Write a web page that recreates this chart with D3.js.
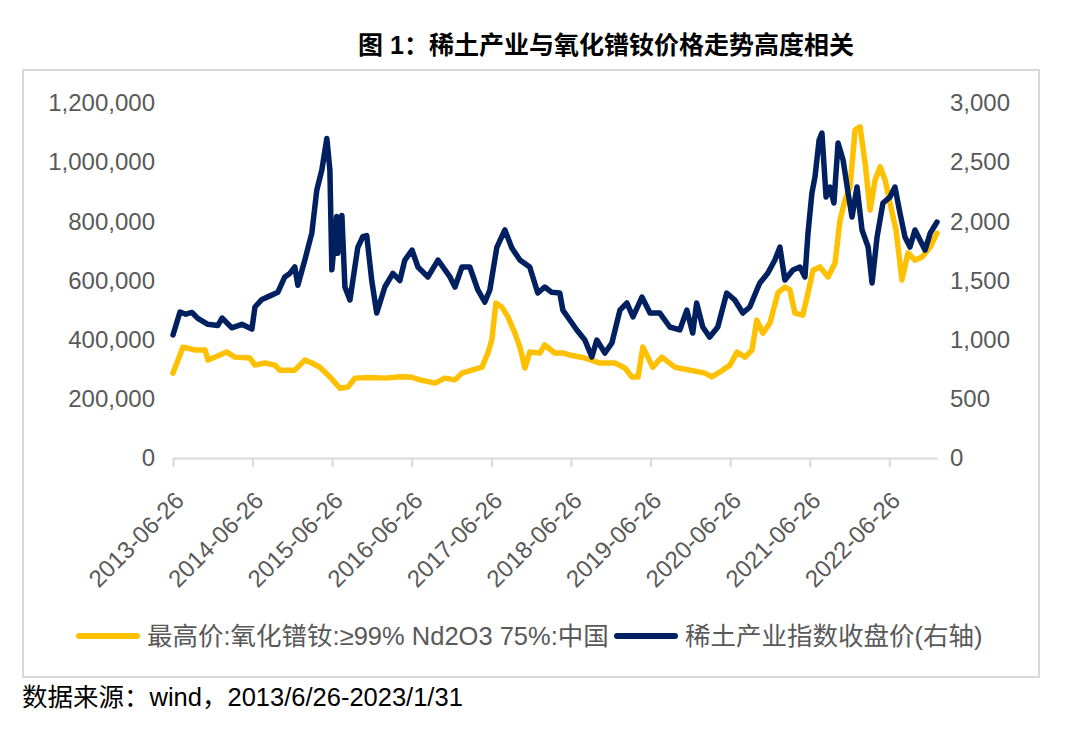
<!DOCTYPE html>
<html>
<head>
<meta charset="utf-8">
<script src="https://cdnjs.cloudflare.com/ajax/libs/d3/7.8.5/d3.min.js"></script>
<style>
    body{margin:0;background:#fff;}
    svg text{font-family:"Liberation Sans","Noto Sans CJK SC",sans-serif;}
</style>
</head>
<body>
<div id="chart"></div>
<script>
// 最高价:氧化镨钕 (元/吨, 左轴)
var priceDates = ["2013-06-26","2013-07-19","2013-08-11","2013-10-05","2013-11-20","2013-12-03","2014-01-27","2014-02-28",
    "2014-04-06","2014-06-14","2014-07-07","2014-08-22","2014-10-07","2014-10-29","2015-01-06","2015-02-21","2015-03-25",
    "2015-05-01","2015-06-16","2015-08-01","2015-09-07","2015-10-09","2015-12-16","2016-02-23","2016-05-02","2016-06-18",
    "2016-08-03","2016-10-11","2016-11-25","2017-01-10","2017-02-11","2017-03-28","2017-05-14","2017-06-10","2017-06-28",
    "2017-07-17","2017-08-13","2017-09-10","2017-10-12","2017-11-04","2017-11-27","2017-12-19","2018-02-04","2018-02-26",
    "2018-04-13","2018-05-20","2018-06-21","2018-08-29","2018-11-06","2019-01-14","2019-03-01","2019-04-02","2019-04-30",
    "2019-05-22","2019-06-14","2019-07-07","2019-08-17","2019-10-16","2019-12-24","2020-03-02","2020-04-03","2020-05-10",
    "2020-06-25","2020-07-27","2020-09-02","2020-10-04","2020-10-26","2020-11-23","2020-12-25","2021-01-31","2021-03-04",
    "2021-03-27","2021-04-19","2021-05-25","2021-06-18","2021-07-11","2021-08-12","2021-09-18","2021-10-20","2021-11-12",
    "2021-12-05","2021-12-28","2022-01-20","2022-02-12","2022-03-07","2022-03-30","2022-04-22","2022-05-15","2022-06-07",
    "2022-06-29","2022-07-27","2022-08-23","2022-09-20","2022-10-22","2022-11-23","2022-12-31","2023-01-31"];
var priceValues = [287000,331000,375000,365000,365000,331000,348000,358000,
    341000,338000,314000,321000,314000,297000,297000,331000,321000,
    307000,274000,236000,240000,270000,272000,270000,275000,274000,
    264000,253000,270000,264000,287000,297000,307000,355000,399000,
    524000,510000,477000,422000,375000,304000,358000,355000,382000,
    355000,355000,348000,338000,321000,321000,304000,274000,274000,
    375000,341000,307000,341000,307000,297000,287000,274000,291000,
    314000,358000,341000,365000,466000,422000,456000,558000,578000,
    568000,490000,483000,558000,635000,646000,612000,659000,804000,
    872000,916000,1109000,1119000,997000,838000,940000,984000,940000,
    862000,771000,602000,693000,669000,679000,713000,760000];

// 稀土产业指数收盘价 (右轴)
var indexDates = ["2013-06-26","2013-07-28","2013-08-24","2013-09-21","2013-10-18","2013-12-03","2014-01-18","2014-02-06",
    "2014-03-23","2014-05-08","2014-06-23","2014-07-07","2014-08-08","2014-09-14","2014-10-20","2014-11-21","2014-12-14",
    "2015-01-06","2015-01-20","2015-02-21","2015-03-25","2015-04-17","2015-05-10","2015-06-02","2015-06-16","2015-06-25",
    "2015-07-17","2015-07-22","2015-08-10","2015-08-24","2015-09-16","2015-10-22","2015-11-14","2015-12-02","2015-12-25",
    "2016-01-17","2016-02-23","2016-03-31","2016-05-02","2016-05-25","2016-06-27","2016-07-24","2016-09-08","2016-10-24",
    "2016-12-18","2017-01-10","2017-02-11","2017-03-19","2017-04-25","2017-05-27","2017-06-19","2017-07-21","2017-08-27",
    "2017-09-28","2017-11-04","2017-12-19","2018-01-25","2018-02-26","2018-03-30","2018-05-06","2018-05-20","2018-06-21",
    "2018-07-23","2018-08-29","2018-09-30","2018-10-23","2018-11-29","2018-12-31","2019-02-06","2019-03-10","2019-04-07",
    "2019-05-18","2019-06-24","2019-08-08","2019-09-23","2019-11-08","2019-12-10","2020-01-06","2020-01-24","2020-02-21",
    "2020-03-24","2020-04-30","2020-06-10","2020-07-17","2020-08-23","2020-09-24","2020-10-26","2020-11-09","2020-12-16",
    "2021-01-17","2021-02-09","2021-03-04","2021-04-10","2021-05-12","2021-06-04","2021-06-18","2021-07-06","2021-07-20",
    "2021-08-08","2021-08-21","2021-09-09","2021-09-27","2021-10-15","2021-11-03","2021-11-26","2021-12-19","2022-01-06",
    "2022-01-29","2022-02-21","2022-03-21","2022-04-08","2022-05-01","2022-05-28","2022-06-29","2022-07-22","2022-08-14",
    "2022-09-06","2022-09-29","2022-10-22","2022-11-14","2022-12-07","2022-12-31","2023-01-31"];
var indexValues = [1040,1234,1215,1230,1180,1130,1120,1183,
    1100,1130,1090,1276,1340,1370,1400,1530,1560,
    1614,1460,1673,1900,2265,2434,2700,2434,1590,
    2040,1730,2050,1445,1335,1780,1870,1880,1500,
    1225,1445,1560,1500,1673,1757,1614,1530,1673,
    1530,1445,1614,1614,1420,1318,1420,1780,1927,
    1775,1673,1614,1394,1445,1400,1394,1250,1166,
    1082,997,853,997,887,972,1250,1310,1192,
    1360,1225,1225,1107,1082,1250,1056,1310,1107,
    1022,1107,1394,1335,1225,1276,1420,1479,1563,
    1673,1782,1504,1588,1614,1530,1900,2240,2374,
    2687,2746,2205,2290,2155,2662,2518,2240,2037,
    2290,1927,1783,1479,1868,2155,2205,2290,2070,
    1868,1783,1927,1842,1757,1900,1994];

var xTickLabels = ["2013-06-26","2014-06-26","2015-06-26","2016-06-26","2017-06-26",
    "2018-06-26","2019-06-26","2020-06-26","2021-06-26","2022-06-26"];
var leftTicks = [0,200000,400000,600000,800000,1000000,1200000];
var rightTicks = [0,500,1000,1500,2000,2500,3000];

var parseDate = d3.timeParse("%Y-%m-%d");
var priceData = priceDates.map(function (d, i) { return {date: parseDate(d), value: priceValues[i]}; });
var indexData = indexDates.map(function (d, i) { return {date: parseDate(d), value: indexValues[i]}; });

var svg = d3.select("#chart")
    .append("svg")
    .attr("width", 1080)
    .attr("height", 734);

svg.append("text")
    .attr("x", 606)
    .attr("y", 45)
    .attr("text-anchor", "middle")
    .attr("dominant-baseline", "central")
    .attr("font-size", 25)
    .attr("font-weight", "bold")
    .attr("fill", "#000")
    .text("图 1：稀土产业与氧化镨钕价格走势高度相关");

svg.append("rect")
    .attr("x", 23)
    .attr("y", 70)
    .attr("width", 1016)
    .attr("height", 607)
    .attr("fill", "none")
    .attr("stroke", "#d9d9d9")
    .attr("stroke-width", 2);

var x = d3.scaleTime()
    .domain([parseDate("2013-06-26"), parseDate("2023-01-31")])
    .range([173, 937]);
var yLeft = d3.scaleLinear().domain([0, 1200000]).range([458, 103]);
var yRight = d3.scaleLinear().domain([0, 3000]).range([458, 103]);

// x axis
var xAxis = svg.append("g")
    .attr("transform", "translate(0,458)")
    .call(d3.axisBottom(x)
        .tickValues(xTickLabels.map(parseDate))
        .tickFormat(d3.timeFormat("%Y-%m-%d"))
        .tickSize(9)
        .tickSizeOuter(0));
xAxis.select(".domain").attr("stroke", "#d9d9d9").attr("stroke-width", 2);
xAxis.selectAll(".tick line").attr("stroke", "#d9d9d9").attr("stroke-width", 2);
xAxis.selectAll(".tick text")
    .attr("x", 0)
    .attr("y", 0)
    .attr("dy", "0.35em")
    .attr("text-anchor", "end")
    .attr("transform", "translate(6,38) rotate(-45)")
    .attr("font-size", 24)
    .attr("fill", "#595959");

// left axis
var leftAxis = svg.append("g")
    .attr("transform", "translate(155,0)")
    .call(d3.axisLeft(yLeft).tickValues(leftTicks).tickFormat(d3.format(",")).tickSize(0).tickPadding(0));
leftAxis.select(".domain").remove();
leftAxis.selectAll("text").attr("font-size", 24).attr("fill", "#595959");

// right axis
var rightAxis = svg.append("g")
    .attr("transform", "translate(950,0)")
    .call(d3.axisRight(yRight).tickValues(rightTicks).tickFormat(d3.format(",")).tickSize(0).tickPadding(0));
rightAxis.select(".domain").remove();
rightAxis.selectAll("text").attr("font-size", 24).attr("fill", "#595959");

var priceLine = d3.line()
    .x(function (d) { return x(d.date); })
    .y(function (d) { return yLeft(d.value); });
var indexLine = d3.line()
    .x(function (d) { return x(d.date); })
    .y(function (d) { return yRight(d.value); });

svg.append("path")
    .datum(priceData)
    .attr("d", priceLine)
    .attr("fill", "none")
    .attr("stroke", "#ffc000")
    .attr("stroke-width", 5.5)
    .attr("stroke-linejoin", "round")
    .attr("stroke-linecap", "round");

svg.append("path")
    .datum(indexData)
    .attr("d", indexLine)
    .attr("fill", "none")
    .attr("stroke", "#002060")
    .attr("stroke-width", 5.5)
    .attr("stroke-linejoin", "round")
    .attr("stroke-linecap", "round");

// legend
var legend = [
    {name: "最高价:氧化镨钕:≥99% Nd2O3 75%:中国", color: "#ffc000", x: 79},
    {name: "稀土产业指数收盘价(右轴)", color: "#002060", x: 617}
];
var lg = svg.selectAll(".legend")
    .data(legend)
    .enter()
    .append("g")
    .attr("class", "legend")
    .attr("transform", function (d) { return "translate(" + d.x + ",636)"; });
lg.append("line")
    .attr("x1", 0).attr("x2", 58)
    .attr("y1", 0).attr("y2", 0)
    .attr("stroke", function (d) { return d.color; })
    .attr("stroke-width", 6)
    .attr("stroke-linecap", "round");
lg.append("text")
    .attr("x", 68)
    .attr("y", 0)
    .attr("dominant-baseline", "central")
    .attr("font-size", 25.5)
    .attr("fill", "#595959")
    .text(function (d) { return d.name; });

svg.append("text")
    .attr("x", 22)
    .attr("y", 697)
    .attr("dominant-baseline", "central")
    .attr("font-size", 25.5)
    .attr("fill", "#000")
    .text("数据来源：wind，2013/6/26-2023/1/31");
</script>
</body>
</html>
